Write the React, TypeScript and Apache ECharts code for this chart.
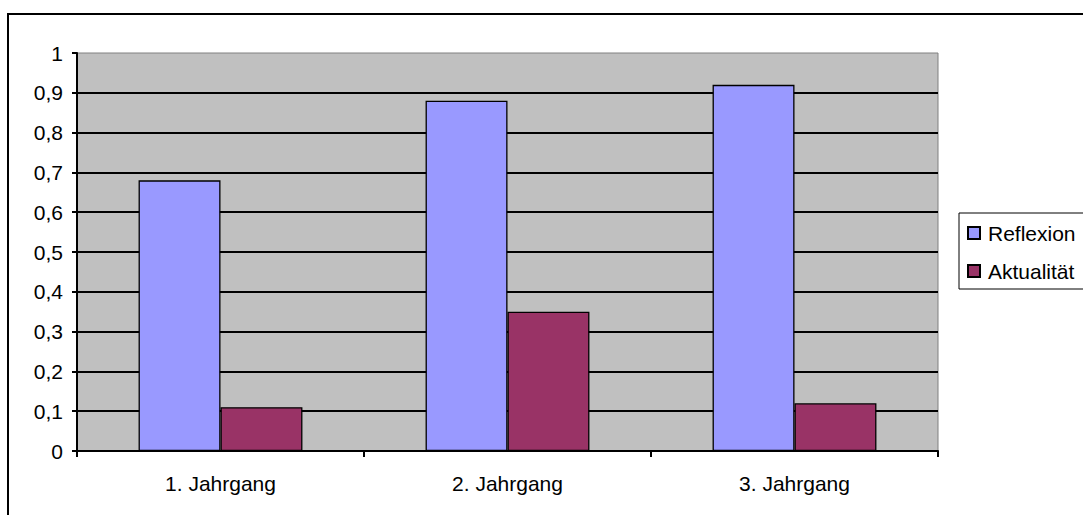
import React, { useEffect, useRef } from "react";
import * as echarts from "echarts";

const categories = ["1. Jahrgang", "2. Jahrgang", "3. Jahrgang"];
const reflexion = [0.68, 0.88, 0.92];
const aktualitaet = [0.11, 0.35, 0.12];
const seriesNames = ["Reflexion", "Aktualität"];

const FONT = "'Liberation Sans', Arial, sans-serif";

export default function App() {
  const ref = useRef<HTMLDivElement>(null);
  useEffect(() => {
    if (!ref.current) return;
    const chart = echarts.init(ref.current, null, { renderer: "svg" });
    chart.setOption({
      animation: false,
      backgroundColor: "#ffffff",
      textStyle: { fontFamily: FONT },
      graphic: [
        {
          type: "rect",
          shape: { x: 8, y: 14, width: 2000, height: 2000 },
          style: { fill: "none", stroke: "#000000", lineWidth: 2 },
          silent: true,
          z: 100,
        },
      ],
      grid: {
        left: 77,
        top: 53,
        right: 145,
        bottom: 64,
        show: true,
        backgroundColor: "#c0c0c0",
        borderColor: "#808080",
        borderWidth: 1,
      },
      legend: {
        orient: "vertical",
        left: 959,
        top: 213,
        padding: [9, 14, 7, 8],
        itemGap: 16,
        itemWidth: 12,
        itemHeight: 12,
        borderColor: "#000000",
        borderWidth: 1,
        backgroundColor: "#ffffff",
        icon: "rect",
        textStyle: {
          fontFamily: FONT,
          fontSize: 21,
          lineHeight: 22,
          color: "#000000",
          padding: [0, 0, 0, 3],
        },
        data: seriesNames,
      },
      xAxis: {
        type: "category",
        data: categories,
        axisLine: { lineStyle: { color: "#000000", width: 2 } },
        axisTick: { show: true, length: 6, lineStyle: { color: "#000000", width: 2 } },
        axisLabel: {
          fontFamily: FONT,
          fontSize: 21,
          color: "#000000",
          margin: 22,
        },
        splitLine: { show: false },
      },
      yAxis: {
        type: "value",
        min: 0,
        max: 1,
        interval: 0.1,
        axisLine: { show: true, lineStyle: { color: "#000000", width: 2 } },
        axisTick: { show: true, length: 5, lineStyle: { color: "#000000", width: 2 } },
        axisLabel: {
          fontFamily: FONT,
          fontSize: 21,
          color: "#000000",
          margin: 14,
          formatter: (v: number) =>
            Number(v.toFixed(1)).toString().replace(".", ","),
        },
        splitLine: {
          show: true,
          showMaxLine: false,
          lineStyle: { color: "#000000", width: 2 },
        },
      },
      series: [
        {
          name: seriesNames[0],
          type: "bar",
          data: reflexion,
          barGap: "0%",
          barCategoryGap: "42.9%",
          itemStyle: { color: "#9999ff", borderColor: "#000000", borderWidth: 1.3 },
        },
        {
          name: seriesNames[1],
          type: "bar",
          data: aktualitaet,
          barGap: "0%",
          barCategoryGap: "42.9%",
          itemStyle: { color: "#993366", borderColor: "#000000", borderWidth: 1.3 },
        },
      ],
    });
    return () => chart.dispose();
  }, []);
  return (
    <div
      ref={ref}
      style={{ position: "fixed", left: 0, top: 0, width: 1083, height: 515 }}
    />
  );
}
